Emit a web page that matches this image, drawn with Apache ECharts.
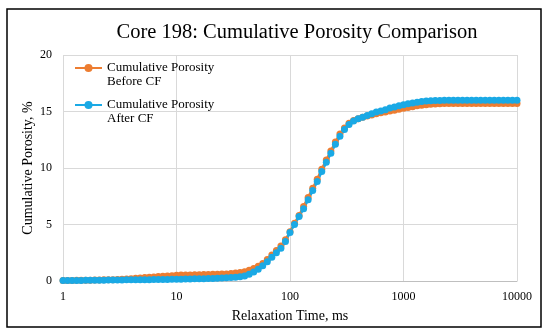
<!DOCTYPE html>
<html>
<head>
<meta charset="utf-8">
<script src="https://cdn.jsdelivr.net/npm/echarts@6/dist/echarts.min.js"></script>
<style>html,body{margin:0;padding:0;background:#fff}#c{width:550px;height:335px}</style>
</head>
<body>
<div id="c"></div>
<script>
var titleText = 'Core 198: Cumulative Porosity Comparison';
var xName = 'Relaxation Time, ms';
var yName = 'Cumulative Porosity, %';
var xTicks = [1, 10, 100, 1000, 10000];
var yTicks = [0, 5, 10, 15, 20];
var seriesNames = ['Cumulative Porosity\nBefore CF', 'Cumulative Porosity\nAfter CF'];

var times = [
  1, 1.096, 1.202, 1.318, 1.445, 1.585, 1.738, 1.905, 2.089, 2.291, 2.512, 2.754, 3.020, 3.311, 3.631, 3.981, 4.365, 4.786, 5.248, 5.754, 6.310, 6.918, 7.586, 8.318, 9.120,
  10, 10.96, 12.02, 13.18, 14.45, 15.85, 17.38, 19.05, 20.89, 22.91, 25.12, 27.54, 30.20, 33.11, 36.31, 39.81, 43.65, 47.86, 52.48, 57.54, 63.10, 69.18, 75.86, 83.18, 91.20,
  100, 109.6, 120.2, 131.8, 144.5, 158.5, 173.8, 190.5, 208.9, 229.1, 251.2, 275.4, 302.0, 331.1, 363.1, 398.1, 436.5, 478.6, 524.8, 575.4, 631.0, 691.8, 758.6, 831.8, 912.0,
  1000, 1096, 1202, 1318, 1445, 1585, 1738, 1905, 2089, 2291, 2512, 2754, 3020, 3311, 3631, 3981, 4365, 4786, 5248, 5754, 6310, 6918, 7586, 8318, 9120, 10000
];

var before = [
  0.05,0.05,0.05,0.06,0.06,0.07,0.07,0.08,0.09,0.10,0.11,
  0.12,0.14,0.16,0.18,0.21,0.24,0.27,0.30,0.33,0.36,0.39,0.42,0.45,0.47,
  0.50,0.52,0.53,0.54,0.55,0.56,0.57,0.58,0.59,0.60,0.61,0.63,0.66,0.70,0.75,0.82,
  0.95,1.1,1.3,1.55,1.9,2.3,2.7,3.1,3.65,4.35,
  5.1,5.8,6.6,7.4,8.2,9.0,9.9,10.7,11.5,12.3,
  13.0,13.55,13.95,14.2,14.35,14.5,14.6,14.7,14.8,14.88,
  14.96,15.04,15.12,15.2,15.28,15.36,15.43,15.5,15.56,15.6,
  15.64,15.67,15.69,
  15.7,15.7,15.7,15.7,15.7,15.7,15.7,15.7,15.7,15.7,15.7,15.7,15.7,15.7,15.7,15.7,15.7
];

var after = [
  0.05,0.05,0.05,0.05,0.05,0.06,0.06,0.06,0.07,0.07,0.08,
  0.08,0.09,0.09,0.10,0.10,0.11,0.11,0.12,0.12,0.13,0.13,0.14,0.14,0.15,
  0.15,0.16,0.17,0.18,0.19,0.20,0.21,0.22,0.23,0.25,0.26,0.28,0.30,0.33,0.38,0.45,
  0.6,0.8,1.05,1.35,1.7,2.1,2.5,2.9,3.5,4.3,
  5.0,5.7,6.4,7.2,8.0,8.8,9.7,10.5,11.3,12.1,
  12.8,13.4,13.85,14.15,14.35,14.5,14.65,14.8,14.95,15.05,
  15.15,15.3,15.4,15.5,15.6,15.68,15.75,15.82,15.88,15.92,
  15.95,15.97,15.98,
  16.0,16.0,16.0,16.0,16.0,16.0,16.0,16.0,16.0,16.0,16.0,16.0,16.0,16.0,16.0,16.0,16.0
];

function pairs(xs, ys) { var o = []; for (var i = 0; i < xs.length; i++) o.push([xs[i], ys[i]]); return o; }

var serif = 'Liberation Serif';
var chart = echarts.init(document.getElementById('c'), null, {renderer: 'canvas'});
chart.setOption({
  animation: false,
  backgroundColor: '#fff',
  graphic: [{
    type: 'rect', shape: {x: 7, y: 9, width: 534, height: 318},
    style: {fill: null, stroke: '#000', lineWidth: 1.5}, silent: true
  }, {
    type: 'text', x: 297, y: 33, silent: true,
    style: {text: titleText, fontFamily: serif, fontSize: 20.5, fill: '#000', align: 'center', verticalAlign: 'middle'}
  }],
  legend: {
    orient: 'vertical', left: 74, top: 47, padding: 0,
    itemWidth: 27, itemHeight: 10, itemGap: -5,
    data: seriesNames,
    formatter: function (name) { return '\n' + name; },
    textStyle: {fontFamily: serif, fontSize: 13, color: '#000', lineHeight: 14}
  },
  grid: {left: 63, right: 33, top: 55, bottom: 54},
  xAxis: {
    type: 'log', logBase: 10, min: xTicks[0], max: xTicks[xTicks.length - 1],
    name: xName, nameLocation: 'middle', nameGap: 28,
    nameTextStyle: {fontFamily: serif, fontSize: 14, color: '#000'},
    axisLine: {show: true, lineStyle: {color: '#BFBFBF'}},
    axisTick: {show: false},
    axisLabel: {fontFamily: serif, fontSize: 12, color: '#000', margin: 10, formatter: function (v) { return String(v); }},
    splitLine: {show: true, lineStyle: {color: '#D9D9D9'}},
    minorTick: {show: false}
  },
  yAxis: {
    type: 'value', min: yTicks[0], max: yTicks[yTicks.length - 1], interval: yTicks[1] - yTicks[0],
    name: yName, nameLocation: 'middle', nameGap: 28, nameMoveOverlap: false,
    nameTextStyle: {fontFamily: serif, fontSize: 14, color: '#000'},
    axisLine: {show: false},
    axisTick: {show: false},
    axisLabel: {fontFamily: serif, fontSize: 12, color: '#000', margin: 11},
    splitLine: {show: true, lineStyle: {color: '#D9D9D9'}}
  },
  series: [
    {
      name: seriesNames[0], type: 'line', data: pairs(times, before),
      symbol: 'circle', symbolSize: 7, showAllSymbol: true,
      itemStyle: {color: '#ED7D31'}, lineStyle: {color: '#ED7D31', width: 2.5}
    },
    {
      name: seriesNames[1], type: 'line', data: pairs(times, after),
      symbol: 'circle', symbolSize: 7, showAllSymbol: true,
      itemStyle: {color: '#1AA9E5'}, lineStyle: {color: '#1AA9E5', width: 2.5}
    }
  ]
});
</script>
</body>
</html>
